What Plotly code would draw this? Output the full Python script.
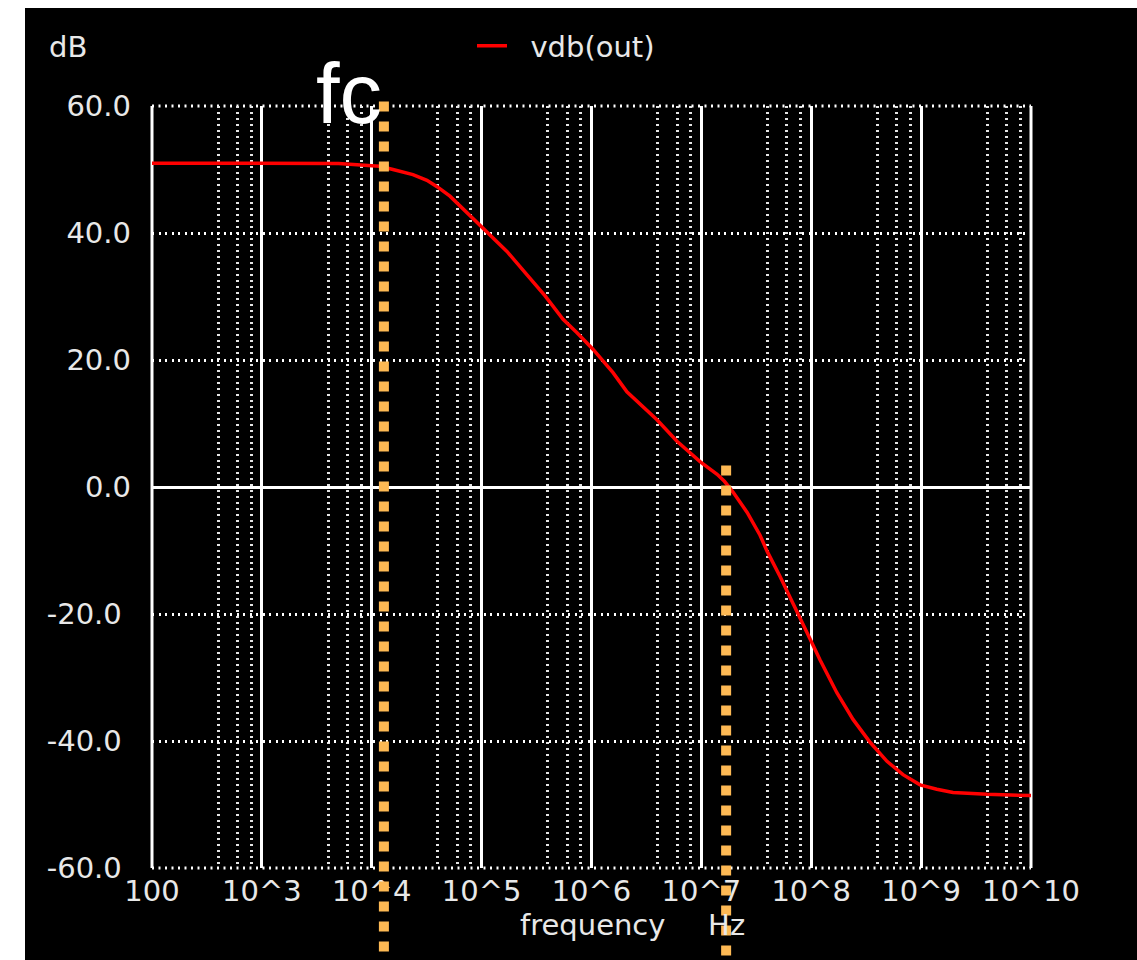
import numpy as np
import plotly.graph_objects as go

# AC sweep of vdb(out): frequency (Hz) and magnitude (dB)
freq_hz = [1e2, 5.0e3, 1.0e4, 1.19e4, 1.56e4, 2.37e4, 3.18e4, 3.93e4, 5.15e4,
           6.62e4, 9.66e4, 1.70e5, 2.59e5, 3.78e5, 5.51e5, 7.38e5, 1.03e6,
           1.57e6, 2.10e6, 3.94e6, 6.0e6, 7.89e6, 9.72e6, 1.39e7, 1.62e7,
           1.94e7, 2.61e7, 3.42e7, 3.96e7, 5.2e7, 6.83e7, 9.14e7, 1.20e8,
           1.71e8, 2.40e8, 3.43e8, 4.89e8, 6.84e8, 9.77e8, 1.39e9, 1.95e9,
           3.98e9, 1e10]
vdb_out = [51.0, 50.95, 50.6, 50.5, 50.0, 49.2, 48.3, 47.3, 45.8,
           44.0, 41.3, 37.1, 33.4, 30.1, 26.4, 24.3, 21.7,
           18.0, 15.0, 10.6, 7.2, 5.4, 4.0, 2.0, 0.9,
           -0.8, -4.0, -7.6, -10.1, -14.1, -18.5, -22.9, -27.2,
           -32.4, -36.6, -40.2, -43.2, -45.3, -46.9, -47.6, -48.1,
           -48.4, -48.6]

# Marker lines: corner frequency and unity-gain frequency
marker_hz = [1.29e4, 1.68e7]
marker_top_db = [60.7, 3.4]
marker_label = "fc"

# Axis ticks
x_tickvals = [1e2, 1e3, 1e4, 1e5, 1e6, 1e7, 1e8, 1e9, 1e10]
x_ticktext = ["100", "10^3", "10^4", "10^5", "10^6", "10^7", "10^8", "10^9", "10^10"]
x_minor = [m * 10.0 ** e for e in range(2, 10) for m in (4, 6, 8)]
y_tickvals = [60, 40, 20, 0, -20, -40, -60]
y_ticktext = ["60.0", "40.0", "20.0", "0.0", "-20.0\u00a0", "-40.0\u00a0", "-60.0\u00a0"]

W, H = 1137, 960
ML, MR, MT, MB = 152, 106, 106, 92
PW, PH = W - ML - MR, H - MT - MB

TXT = "#e8e8e8"
FONT = "DejaVu Sans"
DOT_H = "2px,4.5px"
DOT_V = "2px,4px"


def py_to_paper(py):
    return (H - MB - py) / PH


def px_to_paper(px):
    return (px - ML) / PW


fig = go.Figure()
fig.add_trace(go.Scatter(
    x=freq_hz, y=vdb_out, mode="lines", name="\u00a0\u00a0vdb(out)",
    line=dict(color="#ff0000", width=3.5),
))

shapes = []
# white strips round the black canvas
shapes.append(dict(type="rect", xref="paper", yref="paper",
                   x0=px_to_paper(0), x1=px_to_paper(25), y0=py_to_paper(H), y1=py_to_paper(0),
                   fillcolor="white", line=dict(width=0), layer="below"))
shapes.append(dict(type="rect", xref="paper", yref="paper",
                   x0=px_to_paper(0), x1=px_to_paper(W), y0=py_to_paper(8), y1=py_to_paper(0),
                   fillcolor="white", line=dict(width=0), layer="below"))
# frame: solid sides, dotted top and bottom
for xv in (0, 1):
    shapes.append(dict(type="line", xref="paper", yref="paper", x0=xv, x1=xv, y0=0, y1=1,
                       line=dict(color="white", width=3), layer="below"))
for yv in (0, 1):
    shapes.append(dict(type="line", xref="paper", yref="paper", x0=0, x1=1, y0=yv, y1=yv,
                       line=dict(color="white", width=3, dash=DOT_H), layer="below"))

# orange marker lines
for f, top in zip(marker_hz, marker_top_db):
    shapes.append(dict(type="line", xref="x", yref="paper", x0=f, x1=f,
                       y0=(top + 60) / 120.0, y1=-MB / PH,
                       line=dict(color="#fdb954", width=10, dash="10px,10px"),
                       layer="above"))

annotations = [
    dict(text=marker_label, xref="x", x=np.log10(marker_hz[0]), xanchor="right",
         yref="paper", y=py_to_paper(93), yanchor="middle", showarrow=False,
         font=dict(family="Liberation Sans", size=85, color="white")),
    dict(text="dB", xref="paper", x=px_to_paper(68), xanchor="center",
         yref="paper", y=py_to_paper(47), yanchor="middle", showarrow=False,
         font=dict(family=FONT, size=29, color=TXT)),
    dict(text="frequency\u00a0\u00a0\u00a0\u00a0\u2009Hz", xref="paper", x=px_to_paper(632),
         xanchor="center", yref="paper", y=py_to_paper(925), yanchor="middle",
         showarrow=False, font=dict(family=FONT, size=29, color=TXT)),
]

fig.update_layout(
    width=W, height=H,
    margin=dict(l=ML, r=MR, t=MT, b=MB),
    paper_bgcolor="black", plot_bgcolor="black",
    font=dict(family=FONT, size=29, color=TXT),
    showlegend=True,
    legend=dict(x=px_to_paper(472), xanchor="left", y=py_to_paper(46), yanchor="middle",
                bgcolor="rgba(0,0,0,0)", font=dict(family=FONT, size=29, color=TXT),
                borderwidth=0),
    shapes=shapes,
    annotations=annotations,
)

fig.update_xaxes(
    type="log", range=[2, 10],
    tickvals=x_tickvals, ticktext=x_ticktext,
    showgrid=True, gridcolor="white", gridwidth=3,
    ticks="", ticklabelstandoff=3,
    tickfont=dict(family=FONT, size=29, color=TXT),
    minor=dict(tickmode="array", tickvals=x_minor, showgrid=True, gridcolor="#e4e4e4",
               gridwidth=3, griddash=DOT_V, ticks=""),
    zeroline=False, showline=False,
)
fig.update_yaxes(
    range=[-60, 60],
    tickvals=y_tickvals, ticktext=y_ticktext,
    showgrid=True, gridcolor="white", gridwidth=3, griddash=DOT_H,
    zeroline=True, zerolinecolor="white", zerolinewidth=3,
    ticks="", ticklabelstandoff=20,
    tickfont=dict(family=FONT, size=29, color=TXT),
    showline=False,
)

fig.write_html("out.html")
